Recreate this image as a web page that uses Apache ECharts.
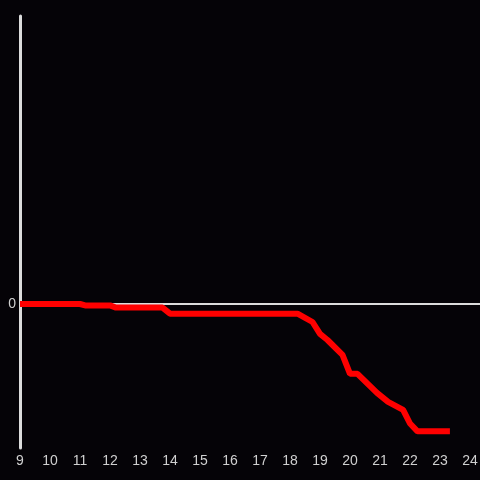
<!DOCTYPE html>
<html>
<head>
<meta charset="utf-8">
<script src="https://cdn.jsdelivr.net/npm/echarts@6/dist/echarts.min.js"></script>
<style>
  html, body { margin: 0; padding: 0; background: #050307; }
  #chart { width: 480px; height: 480px; }
</style>
</head>
<body>
<div id="chart"></div>
<script>
// hour of day and value
const hours = [9, 11, 11.17, 12, 12.2, 13.75, 14, 18.25, 18.75, 19, 19.25, 19.75, 20, 20.25, 20.9, 21.27, 21.77, 22, 22.25, 23.33];
const values = [0, 0, -0.01, -0.01, -0.025, -0.025, -0.067, -0.067, -0.125, -0.208, -0.25, -0.353, -0.485, -0.485, -0.617, -0.68, -0.735, -0.83, -0.884, -0.884];
const xMin = 9;
const xMax = 24.333;

const axisColor = '#dcdcdc';
const labelColor = '#d0d0d0';

const data = hours.map((h, i) => [h, values[i]]);

const chart = echarts.init(document.getElementById('chart'));
chart.setOption({
  backgroundColor: '#050307',
  animation: false,
  grid: { left: 20, right: 0, top: 16, bottom: 32, outerBoundsMode: 'none' },
  xAxis: [
    {
      type: 'value',
      min: xMin,
      max: xMax,
      interval: 1,
      axisLine: { show: false, onZero: false },
      axisTick: { show: false },
      splitLine: { show: false },
      axisLabel: {
        color: labelColor,
        fontSize: 14,
        fontFamily: 'Liberation Sans',
        margin: 6,
        formatter: v => Number.isInteger(v) ? String(v) : ''
      }
    },
    {
      // zero line
      type: 'value',
      position: 'bottom',
      min: xMin,
      max: xMax,
      axisLine: { show: true, onZero: true, lineStyle: { color: axisColor, width: 2 } },
      axisTick: { show: false },
      axisLabel: { show: false },
      splitLine: { show: false }
    }
  ],
  yAxis: {
    type: 'value',
    min: -1,
    max: 2,
    interval: 1,
    axisLine: { show: true, onZero: false, lineStyle: { color: axisColor, width: 3 } },
    axisTick: { show: false },
    splitLine: { show: false },
    axisLabel: {
      color: labelColor,
      fontSize: 14,
      fontFamily: 'Liberation Sans',
      margin: 4,
      formatter: v => v === 0 ? '0' : ''
    }
  },
  series: [
    {
      type: 'line',
      xAxisIndex: 0,
      data: data,
      showSymbol: false,
      lineStyle: { color: '#ff0000', width: 6, cap: 'butt' },
      z: 5
    }
  ]
});
</script>
</body>
</html>
